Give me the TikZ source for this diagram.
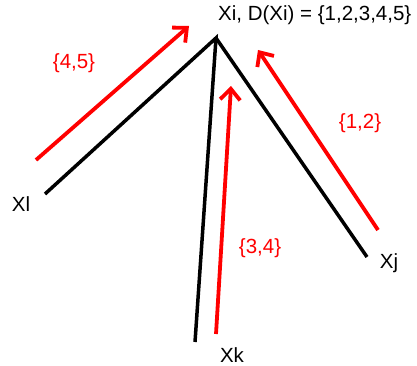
\documentclass[tikz,border=0pt]{standalone}
\usepackage{fontspec}
\setmainfont{Liberation Sans}
\usetikzlibrary{arrows.meta}
\begin{document}
\begin{tikzpicture}[x=1pt,y=-1pt,
  edge/.style={black,line width=3.5pt},
  msg/.style={red,line width=3.8pt,-{Straight Barb[length=11pt,width=20pt,line width=3.8pt]}},
  lab/.style={font=\fontsize{20.5}{24}\selectfont,inner sep=0pt},
  rlab/.style={lab,red}]
\useasboundingbox (0,0) rectangle (417,366);
\coordinate (i) at (216,38);
\coordinate (l) at (45,194);
\coordinate (k) at (195,342);
\coordinate (j) at (367,257);
\draw[edge] (l) -- (i) -- (k);
\draw[edge] (i) -- (j);
\coordinate (a1) at (36,160); \coordinate (a2) at (189,26);
\coordinate (b1) at (378,230); \coordinate (b2) at (258,50);
\coordinate (c1) at (216,334); \coordinate (c2) at (231,86);
\draw[msg] (a1) -- (a2);
\draw[msg] (b1) -- (b2);
\draw[msg] (c1) -- (c2);
\node[lab,anchor=west] (ti) at (218,15) {Xi, D(Xi) = \{1,2,3,4,5\}};
\node[lab] (tl) at (21,204) {Xl};
\node[lab] (tk) at (232,355) {Xk};
\node[lab] (tj) at (389,263) {Xj};
\node[rlab] (t45) at (74,63) {\{4,5\}};
\node[rlab] (t12) at (360,123) {\{1,2\}};
\node[rlab] (t34) at (260,248) {\{3,4\}};
\end{tikzpicture}
\end{document}
